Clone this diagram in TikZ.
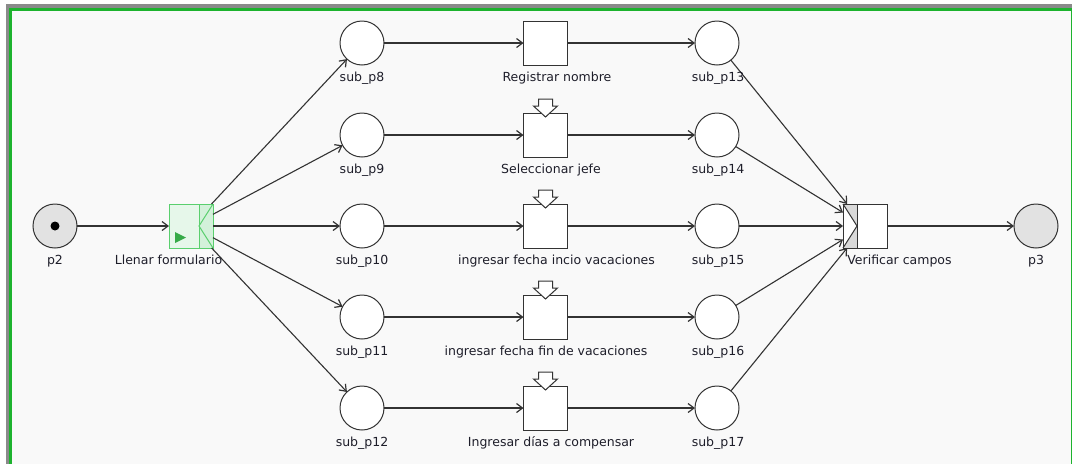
\documentclass[tikz,border=0pt]{standalone}
\usepackage{fontspec}
\setmainfont{DejaVu Sans}
\usetikzlibrary{arrows.meta}

\definecolor{canvas}{HTML}{F9F9F9}
\definecolor{framegray}{HTML}{8A8A8A}
\definecolor{framegreen}{HTML}{1DB32E}
\definecolor{edge}{HTML}{333333}
\definecolor{labeltext}{HTML}{1E1E2A}
\definecolor{tokenfill}{HTML}{E2E2E2}
\definecolor{greenline}{HTML}{5ACF6E}
\definecolor{greenfill}{HTML}{E6F7EA}
\definecolor{greenstrip}{HTML}{D3F1DA}
\definecolor{playgreen}{HTML}{36AA48}
\definecolor{graystrip}{HTML}{D9D9D9}

% hollow "input" arrow sitting on top of a transition
\newcommand\inmark[1]{%
  \draw[edge, line width=1pt, fill=white, line join=miter]
    ([shift={(-7,-14)}]#1.north) -- ([shift={(7,-14)}]#1.north)
    -- ([shift={(7,-7)}]#1.north) -- ([shift={(12,-7)}]#1.north)
    -- ([shift={(0,4)}]#1.north) -- ([shift={(-12,-7)}]#1.north)
    -- ([shift={(-7,-7)}]#1.north) -- cycle;}

\begin{document}
\begin{tikzpicture}[x=1pt,y=-1pt,
  place/.style={circle, draw=edge, fill=white, line width=1pt,
    minimum size=44pt, inner sep=0pt, outer sep=0pt},
  trans/.style={rectangle, draw=edge, fill=white, line width=1pt,
    minimum size=44pt, inner sep=0pt, outer sep=0pt},
  lbl/.style={font=\fontsize{12.5}{14}\selectfont, text=labeltext,
    anchor=base, inner sep=0pt},
  arc/.style={draw=edge, line width=1.1pt,
    -{Straight Barb[length=6pt,width=9pt,line width=1.2pt]}}]

\useasboundingbox (0,0) rectangle (1072,464);
\fill[white] (0,0) rectangle (1072,464);

% window frame
\fill[framegray] (6,4) rectangle (1072,8);
\fill[framegray] (6,4) rectangle (9,464);
\fill[canvas] (12,10.5) rectangle (1070.5,464);
\fill[framegreen] (9,8) rectangle (1072,10.5);
\fill[framegreen] (9,8) rectangle (12,464);
\fill[framegreen] (1070.5,8) rectangle (1071.5,464);

% places
\node[place, fill=tokenfill] (p2) at (55,226) {};
\fill[black] (p2) circle (4.5);
\node[place, fill=tokenfill] (p3) at (1036,226) {};

\node[place] (s8)  at (362,43)  {};
\node[place] (s9)  at (362,135) {};
\node[place] (s10) at (362,226) {};
\node[place] (s11) at (362,317) {};
\node[place] (s12) at (362,408) {};

\node[place] (s13) at (717,43)  {};
\node[place] (s14) at (717,135) {};
\node[place] (s15) at (717,226) {};
\node[place] (s16) at (717,317) {};
\node[place] (s17) at (717,408) {};

% split transition
\node[trans, draw=greenline, fill=greenfill] (L) at (191,226) {};
\fill[greenstrip] ([xshift=-14]L.north east) rectangle (L.south east);
\draw[greenline, line width=1pt] (L.north east) -- ([xshift=-14]L.east) -- (L.south east);
\draw[greenline, line width=1pt] ([xshift=-14]L.north east) -- ([xshift=-14]L.south east);
\draw[greenline, line width=1pt] (L.north west) rectangle (L.south east);
\fill[playgreen] (175,232) -- (186,237.5) -- (175,243) -- cycle;

% join transition
\node[trans] (V) at (865,226) {};
\fill[graystrip] (V.north west) rectangle ([xshift=14]V.south west);
\fill[white] (V.north west) -- ([xshift=14]V.west) -- (V.south west) -- cycle;
\draw[edge, line width=1pt] (V.north west) -- ([xshift=14]V.west) -- (V.south west);
\draw[edge, line width=1pt] ([xshift=14]V.north west) -- ([xshift=14]V.south west);
\draw[edge, line width=1pt] (V.north west) rectangle (V.south east);

% task transitions
\node[trans] (t1) at (545.5,43)  {};
\node[trans] (t2) at (545.5,135) {};
\node[trans] (t3) at (545.5,226) {};
\node[trans] (t4) at (545.5,317) {};
\node[trans] (t5) at (545.5,408) {};
\inmark{t2}
\inmark{t3}
\inmark{t4}
\inmark{t5}

% arcs
\draw[arc] (p2) -- (L);
\foreach \s in {s8,s9,s10,s11,s12} \draw[arc] (L) -- (\s);
\draw[arc] (s8)  -- (t1);
\draw[arc] (s9)  -- (t2);
\draw[arc] (s10) -- (t3);
\draw[arc] (s11) -- (t4);
\draw[arc] (s12) -- (t5);
\draw[arc] (t1) -- (s13);
\draw[arc] (t2) -- (s14);
\draw[arc] (t3) -- (s15);
\draw[arc] (t4) -- (s16);
\draw[arc] (t5) -- (s17);
\foreach \s in {s13,s14,s15,s16,s17} \draw[arc] (\s) -- (V);
\draw[arc] (V) -- (p3);

% labels
\node[lbl] (lp2) at (55,264) {p2};
\node[lbl] (lL) at (168.5,264) {Llenar formulario};
\node[lbl] (l8)  at (362,81)  {sub\_p8};
\node[lbl] (l9)  at (362,173) {sub\_p9};
\node[lbl] (l10) at (362,264) {sub\_p10};
\node[lbl] (l11) at (362,355) {sub\_p11};
\node[lbl] (l12) at (362,446) {sub\_p12};
\node[lbl] (lt1) at (557,81)  {Registrar nombre};
\node[lbl] (lt2) at (551,173) {Seleccionar jefe};
\node[lbl] (lt3) at (556.5,264) {ingresar fecha incio vacaciones};
\node[lbl] (lt4) at (546,355) {ingresar fecha fin de vacaciones};
\node[lbl] (lt5) at (551,446) {Ingresar días a compensar};
\node[lbl] (l13) at (718,81)  {sub\_p13};
\node[lbl] (l14) at (718,173) {sub\_p14};
\node[lbl] (l15) at (718,264) {sub\_p15};
\node[lbl] (l16) at (718,355) {sub\_p16};
\node[lbl] (l17) at (718,446) {sub\_p17};
\node[lbl] (lV) at (899.5,264) {Verificar campos};
\node[lbl] (lp3) at (1036,264) {p3};
\end{tikzpicture}
\end{document}
